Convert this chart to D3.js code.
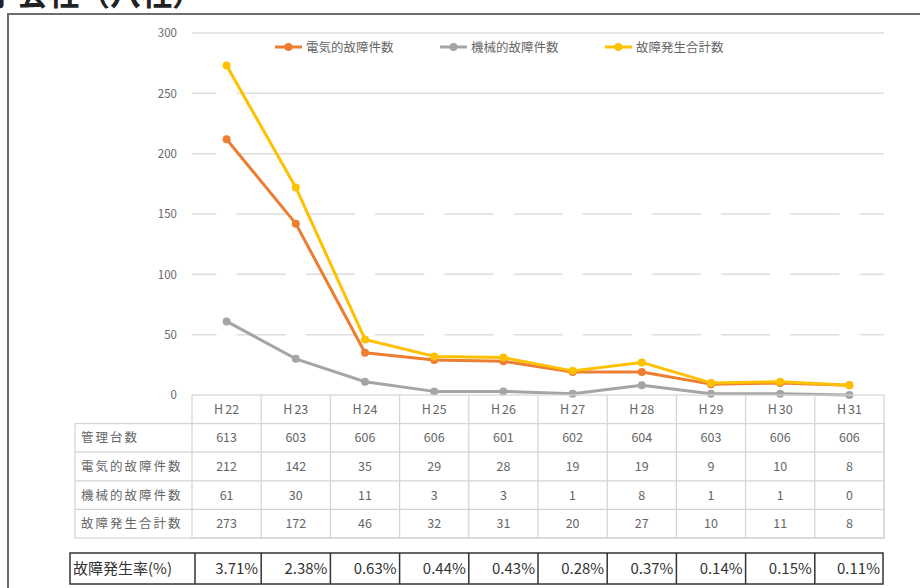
<!DOCTYPE html>
<html><head><meta charset="utf-8">
<script src="https://cdn.jsdelivr.net/npm/d3@7"></script>
<style>
body{margin:0;background:#fff;}
svg{display:block;font-family:"Noto Sans CJK JP","Noto Sans",sans-serif;}
</style></head>
<body><svg id="c" width="920" height="588"></svg>
<script>
const categories = ["H22","H23","H24","H25","H26","H27","H28","H29","H30","H31"];
const managed    = [613,603,606,606,601,602,604,603,606,606];
const electrical = [212,142,35,29,28,19,19,9,10,8];
const mechanical = [61,30,11,3,3,1,8,1,1,0];
const totals     = [273,172,46,32,31,20,27,10,11,8];
const rates      = ["3.71%","2.38%","0.63%","0.44%","0.43%","0.28%","0.37%","0.14%","0.15%","0.11%"];
const yTicks     = [0,50,100,150,200,250,300];
const seriesNames = ["電気的故障件数","機械的故障件数","故障発生合計数"];
const rowLabels  = ["管理台数","電気的故障件数","機械的故障件数","故障発生合計数"];
const rateLabel  = "故障発生率(%)";
const titleText  = "子会社（八社）";

const colors = ["#ED7D31","#A5A5A5","#FFC000"];
const svg = d3.select("#c");

// title (cut off at top, as in the reference)
svg.append("text").attr("x",-14).attr("y",5).attr("font-size",31).attr("font-weight","bold")
  .attr("fill","#222").text(titleText);
// frame
svg.append("path").attr("d","M8,588 L8,14 L920,14").attr("fill","none").attr("stroke","#6e6e6e").attr("stroke-width",2);

const x = d3.scaleBand().domain(categories).range([192,884]);
const cx = c => x(c) + x.bandwidth()/2;
const y = d3.scaleLinear().domain([0,300]).range([395,33]);

// gridlines
const gx0 = 192, gx1 = 884;
yTicks.filter(t=>t>0).forEach(t=>{
  let gapsAt = [];
  if (t <= 150) gapsAt = categories.map(cx);
  else if (t < 300) gapsAt = [cx(categories[0])];
  let segs = []; let start = gx0;
  gapsAt.forEach(g=>{ segs.push([start,g-10]); start = g+10; });
  segs.push([start,gx1]);
  segs.forEach(s=>{
    if (s[1] > s[0]) svg.append("line").attr("x1",s[0]).attr("x2",s[1]).attr("y1",y(t)).attr("y2",y(t))
      .attr("stroke","#dedede").attr("stroke-width",1.5);
  });
});
// y axis labels
const yAxis = d3.axisLeft(y).tickValues(yTicks).tickSize(0).tickPadding(0);
const ya = svg.append("g").attr("transform","translate(177,0)").call(yAxis);
ya.select(".domain").remove();
ya.selectAll("text").attr("font-size",11.5).attr("fill","#666")
  .attr("font-family","'Noto Sans CJK JP',sans-serif");

// lines
const data = [electrical, mechanical, totals];
const line = d3.line().x((d,i)=>cx(categories[i])).y(d=>y(d));
data.forEach((vals,k)=>{
  svg.append("path").datum(vals).attr("d",line).attr("fill","none")
    .attr("stroke",colors[k]).attr("stroke-width",3).attr("stroke-linejoin","round");
  svg.selectAll(null).data(vals).enter().append("circle")
    .attr("cx",(d,i)=>cx(categories[i])).attr("cy",d=>y(d)).attr("r",4).attr("fill",colors[k]);
});
// legend
const legX = [275,440,605];
seriesNames.forEach((n,k)=>{
  const lx = legX[k], ly = 47;
  svg.append("line").attr("x1",lx).attr("x2",lx+27).attr("y1",ly).attr("y2",ly).attr("stroke",colors[k]).attr("stroke-width",3);
  svg.append("circle").attr("cx",lx+13.5).attr("cy",ly).attr("r",4).attr("fill",colors[k]);
  svg.append("text").attr("x",lx+31).attr("y",ly+4.5).attr("font-size",12.5).attr("fill","#666").text(n);
});

// data table
const tblTop = 395, rowH = 28.6, labX0 = 75;
const tg = svg.append("g");
const tc = "#d4d4d4";
tg.append("rect").attr("x",gx0).attr("y",tblTop).attr("width",gx1-gx0).attr("height",rowH*5)
  .attr("fill","none").attr("stroke",tc).attr("stroke-width",1.2);
tg.append("rect").attr("x",labX0).attr("y",tblTop+rowH).attr("width",gx1-labX0).attr("height",rowH*4)
  .attr("fill","none").attr("stroke",tc).attr("stroke-width",1.2);
for (let r=2;r<5;r++) tg.append("line").attr("x1",labX0).attr("x2",gx1).attr("y1",tblTop+rowH*r).attr("y2",tblTop+rowH*r).attr("stroke",tc).attr("stroke-width",1.2);
categories.forEach((c,i)=>{ if(i>0) tg.append("line").attr("x1",x(c)).attr("x2",x(c)).attr("y1",tblTop).attr("y2",tblTop+rowH*5).attr("stroke",tc).attr("stroke-width",1.2); });
categories.forEach(c=>{
  const t = tg.append("text").attr("x",cx(c)).attr("y",tblTop+rowH/2+4.5).attr("text-anchor","middle")
    .attr("font-size",12.5).attr("fill","#666");
  t.append("tspan").text(c.slice(0,1));
  t.append("tspan").attr("dx",2).text(c.slice(1));
});
const rows = [managed, electrical, mechanical, totals];
rows.forEach((vals,r)=>{
  const yy = tblTop + rowH*(r+1) + rowH/2 + 4.5;
  tg.append("text").attr("x",labX0+6).attr("y",yy).attr("font-size",12.5).attr("letter-spacing",2)
    .attr("fill","#666").text(rowLabels[r]);
  vals.forEach((v,i)=>{
    tg.append("text").attr("x",cx(categories[i])).attr("y",yy).attr("text-anchor","middle")
      .attr("font-size",12.5).attr("fill","#666").text(v);
  });
});

// rate table
const rTop = 553, rH = 31, rX0 = 70, rX1 = 195;
const rb = svg.append("g");
const rcol = [rX1].concat(categories.slice(1).map(c=>x(c))).concat([gx1-1]);
rb.append("rect").attr("x",rX0).attr("y",rTop).attr("width",gx1-1-rX0).attr("height",rH)
  .attr("fill","none").attr("stroke","#333").attr("stroke-width",1.5);
rcol.slice(0,-1).forEach(xx=>rb.append("line").attr("x1",xx).attr("x2",xx).attr("y1",rTop).attr("y2",rTop+rH).attr("stroke","#333").attr("stroke-width",1.5));
rb.append("text").attr("x",rX0+3).attr("y",rTop+rH/2+5.5).attr("font-size",15).attr("fill","#333").text(rateLabel);
rates.forEach((v,i)=>{
  rb.append("text").attr("x",rcol[i+1]-3).attr("y",rTop+rH/2+5.5).attr("text-anchor","end")
    .attr("font-size",15).attr("fill","#333").text(v);
});
</script></body></html>
